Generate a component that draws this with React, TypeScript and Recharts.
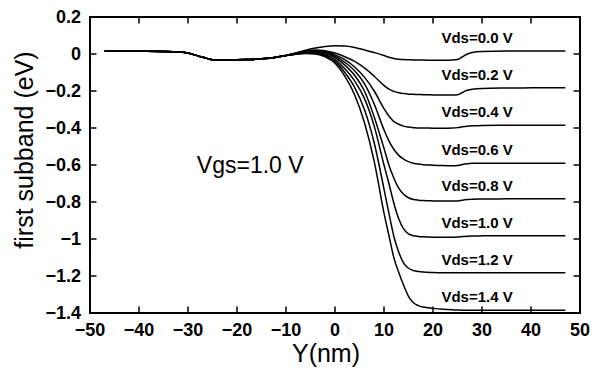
import React from 'react';
import * as R from 'recharts';
import { LineChart, Line, XAxis, YAxis, ReferenceDot } from 'recharts';

// channel position (nm)
const positions = [
  -47, -40, -35, -32, -30, -28, -26, -25, -22, -18, -15, -12, -10,
  -8, -6, -4, -2, 0, 2, 4, 6, 8, 10, 11, 12, 13, 14, 15, 16, 17, 18,
  20, 22, 24, 25, 26, 27, 28, 30, 35, 40, 47,
];

// source side, same for every Vds (-47 .. -10 nm)
const sourceSide = [0.015, 0.015, 0.014, 0.012, 0.005, -0.01, -0.025, -0.031, -0.032, -0.03, -0.026, -0.017, -0.008];

// channel + drain side (-8 .. 47 nm)
const vds00 = [0.006, 0.02, 0.032, 0.04, 0.044, 0.043, 0.035, 0.022, 0.008, -0.008, -0.018, -0.024, -0.028, -0.03, -0.031, -0.032, -0.033, -0.033, -0.034, -0.034, -0.033, -0.03, -0.015, 0.0, 0.008, 0.014, 0.016, 0.016, 0.016];
const vds02 = [0.004, 0.015, 0.022, 0.018, 0.005, -0.015, -0.04, -0.075, -0.12, -0.17, -0.19, -0.202, -0.21, -0.214, -0.217, -0.218, -0.219, -0.22, -0.221, -0.222, -0.222, -0.22, -0.208, -0.196, -0.19, -0.186, -0.184, -0.183, -0.183];
const vds04 = [0.003, 0.013, 0.018, 0.014, -0.005, -0.03, -0.07, -0.125, -0.2, -0.295, -0.335, -0.365, -0.38, -0.39, -0.395, -0.398, -0.4, -0.4, -0.401, -0.401, -0.4, -0.398, -0.393, -0.39, -0.388, -0.386, -0.385, -0.385, -0.385];
const vds06 = [0.002, 0.011, 0.014, 0.008, -0.012, -0.045, -0.09, -0.16, -0.27, -0.41, -0.47, -0.515, -0.548, -0.568, -0.582, -0.59, -0.595, -0.598, -0.601, -0.603, -0.604, -0.603, -0.597, -0.593, -0.591, -0.59, -0.59, -0.59, -0.59];
const vds08 = [0.001, 0.009, 0.01, 0.002, -0.02, -0.06, -0.115, -0.2, -0.34, -0.51, -0.6, -0.67, -0.725, -0.758, -0.777, -0.786, -0.79, -0.792, -0.794, -0.795, -0.795, -0.794, -0.79, -0.787, -0.785, -0.784, -0.783, -0.783, -0.783];
const vds10 = [0.0, 0.007, 0.007, -0.004, -0.03, -0.08, -0.145, -0.24, -0.39, -0.6, -0.7, -0.805, -0.89, -0.945, -0.972, -0.982, -0.986, -0.988, -0.99, -0.99, -0.99, -0.989, -0.987, -0.985, -0.984, -0.983, -0.982, -0.982, -0.982];
const vds12 = [-0.001, 0.005, 0.004, -0.01, -0.04, -0.1, -0.18, -0.3, -0.48, -0.73, -0.86, -0.985, -1.07, -1.13, -1.158, -1.17, -1.176, -1.179, -1.181, -1.182, -1.182, -1.182, -1.182, -1.182, -1.182, -1.182, -1.182, -1.182, -1.182];
const vds14 = [-0.002, 0.003, 0.0, -0.015, -0.05, -0.12, -0.22, -0.37, -0.58, -0.86, -0.98, -1.1, -1.18, -1.25, -1.31, -1.345, -1.36, -1.368, -1.375, -1.38, -1.383, -1.384, -1.385, -1.385, -1.385, -1.385, -1.385, -1.385, -1.385];

const seriesNames = ['Vds=0.0 V', 'Vds=0.2 V', 'Vds=0.4 V', 'Vds=0.6 V', 'Vds=0.8 V', 'Vds=1.0 V', 'Vds=1.2 V', 'Vds=1.4 V'];
const seriesValues = [vds00, vds02, vds04, vds06, vds08, vds10, vds12, vds14];

const xTicks = [-50, -40, -30, -20, -10, 0, 10, 20, 30, 40, 50];
const yTicks = [-1.4, -1.2, -1, -0.8, -0.6, -0.4, -0.2, 0, 0.2];

const data = positions.map((pos, i) => {
  const row: Record<string, number> = { pos };
  seriesValues.forEach((vals, k) => {
    row['s' + k] = i < sourceSide.length ? sourceSide[i] : vals[i - sourceSide.length];
  });
  return row;
});

const fmt = (v: number) => (v < 0 ? '\u2212' + String(Math.abs(v)) : String(v));

const FONT = '"Liberation Sans", Arial, Helvetica, sans-serif';
const X_MIN = -50, X_MAX = 50, Y_MIN = -1.4, Y_MAX = 0.2;
const TICK = 6.5; // inward tick length, px

// plot frame from the chart's plot area
const usePlotAreaHook: any = (R as any).usePlotArea;
function Frame() {
  const area = usePlotAreaHook ? usePlotAreaHook() : null;
  if (!area) return null;
  return (
    <g>
      <rect x={area.x} y={area.y} width={area.width} height={area.height} fill="none" stroke="#000" strokeWidth={2} />
    </g>
  );
}

// short inward tick drawn at a scaled point
const tickMark = (dx: number, dy: number) => (p: any) => (
  <g>
    <path d={`M${p.viewBox.x},${p.viewBox.y}L${p.viewBox.x + dx},${p.viewBox.y + dy}`} stroke="#000" strokeWidth={1.5} />
  </g>
);

export default function App() {
  const innerX = xTicks.filter(t => t > X_MIN && t < X_MAX);
  const innerY = yTicks.filter(t => t > Y_MIN && t < Y_MAX);

  return (
    <div style={{ position: 'absolute', left: 0, top: 0 }}>
      <LineChart width={601} height={373} data={data} margin={{ top: 17, right: 21, bottom: 0, left: 0 }}>
        <XAxis
          dataKey="pos"
          type="number"
          domain={[X_MIN, X_MAX]}
          ticks={xTicks}
          tickFormatter={fmt}
          height={60}
          tickMargin={4}
          axisLine={{ stroke: '#000', strokeWidth: 2 }}
          tickLine={false}
          tick={{ fill: '#000', fontSize: 18, fontFamily: FONT, fontWeight: 'bold' }}
          label={{ value: 'Y(nm)', position: 'insideBottom', offset: 11, dx: -9, fontSize: 25, fontFamily: FONT, fill: '#000' }}
        />
        <YAxis
          type="number"
          domain={[Y_MIN, Y_MAX]}
          ticks={yTicks}
          tickFormatter={fmt}
          width={90}
          tickMargin={3}
          axisLine={{ stroke: '#000', strokeWidth: 2 }}
          tickLine={false}
          tick={{ fill: '#000', fontSize: 18, fontFamily: FONT, fontWeight: 'bold' }}
        />
        <Frame />
        {innerX.map(t => (
          <ReferenceDot key={'xb' + t} x={t} y={Y_MIN} r={0} fill="none" label={tickMark(0, -TICK)} />
        ))}
        {innerX.map(t => (
          <ReferenceDot key={'xt' + t} x={t} y={Y_MAX} r={0} fill="none" label={tickMark(0, TICK)} />
        ))}
        {innerY.map(t => (
          <ReferenceDot key={'yl' + t} x={X_MIN} y={t} r={0} fill="none" label={tickMark(TICK, 0)} />
        ))}
        {innerY.map(t => (
          <ReferenceDot key={'yr' + t} x={X_MAX} y={t} r={0} fill="none" label={tickMark(-TICK, 0)} />
        ))}
        <ReferenceDot
          x={X_MIN}
          y={(Y_MIN + Y_MAX) / 2}
          r={0}
          fill="none"
          label={(p: any) => (
            <text
              transform={`translate(33,${p.viewBox.y - 15}) rotate(-90)`}
              textAnchor="middle"
              fontSize={25}
              fontFamily={FONT}
              fill="#000"
            >
              first subband (eV)
            </text>
          )}
        />
        {seriesNames.map((name, k) => (
          <Line
            key={name}
            dataKey={'s' + k}
            name={name}
            type="monotone"
            stroke="#000"
            strokeWidth={1.5}
            dot={false}
            isAnimationActive={false}
          />
        ))}
        {seriesNames.map((name, k) => (
          <ReferenceDot
            key={'lbl' + k}
            x={29}
            y={seriesValues[k][seriesValues[k].length - 1]}
            r={0}
            fill="none"
            label={(p: any) => (
              <text
                x={p.viewBox.x}
                y={p.viewBox.y - 8}
                textAnchor="middle"
                fontSize={15}
                fontWeight="bold"
                fontFamily={FONT}
                fill="#000"
              >
                {name}
              </text>
            )}
          />
        ))}
        <ReferenceDot
          x={-28.2}
          y={-0.643}
          r={0}
          fill="none"
          label={(p: any) => (
            <text x={p.viewBox.x} y={p.viewBox.y} textAnchor="start" fontSize={23} fontFamily={FONT} fill="#000">
              Vgs=1.0 V
            </text>
          )}
        />
      </LineChart>
    </div>
  );
}
